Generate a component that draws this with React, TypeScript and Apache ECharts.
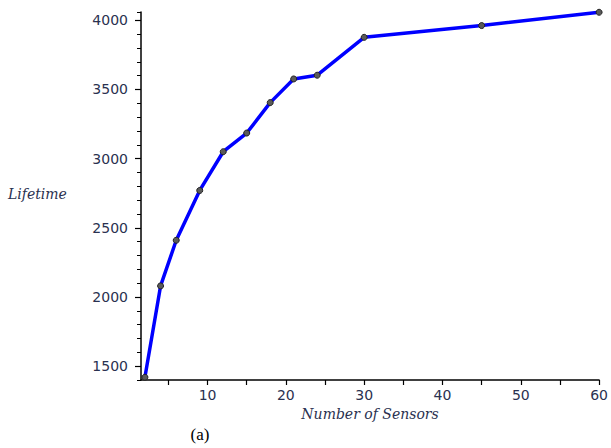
import React, { useEffect, useRef } from "react";
import * as echarts from "echarts";

const sensors = [2, 4, 6, 9, 12, 15, 18, 21, 24, 30, 45, 60];
const lifetime = [1420, 2080, 2410, 2770, 3050, 3185, 3405, 3576, 3603, 3877, 3962, 4058];
const yLabelValues = [1500, 2000, 2500, 3000, 3500, 4000];
const xLabelValues = [10, 20, 30, 40, 50, 60];
const xTickValues = [5, 10, 15, 20, 25, 30, 35, 40, 45, 50, 55, 60];

const labelColor = "#2a3150";
const labelFont = "DejaVu Sans";

export default function App() {
  const ref = useRef<HTMLDivElement>(null);
  useEffect(() => {
    document.body.style.margin = "0";
    if (!ref.current) return;
    const chart = echarts.init(ref.current, undefined, { renderer: "svg" });
    chart.setOption({
      animation: false,
      backgroundColor: "#ffffff",
      grid: { left: 141, right: 10, top: 12, bottom: 68 },
      xAxis: {
        type: "value",
        min: 1.5,
        max: 60,
        name: "Number of Sensors",
        nameLocation: "middle",
        nameGap: 21,
        nameTextStyle: {
          fontFamily: "DejaVu Serif",
          fontStyle: "italic",
          fontSize: 14,
          color: labelColor,
        },
        axisLine: { show: true, onZero: false, lineStyle: { color: "#000", width: 1.5 } },
        axisTick: {
          show: true,
          inside: false,
          length: 5,
          customValues: xTickValues,
          lineStyle: { color: "#000", width: 1.2 },
        },
        axisLabel: {
          customValues: xLabelValues,
          margin: 8,
          fontFamily: labelFont,
          fontSize: 14,
          color: labelColor,
          formatter: (v: number) => String(v),
        },
        splitLine: { show: false },
      },
      yAxis: [
        {
          type: "value",
          min: 1400,
          max: 4060,
          axisLine: { show: true, onZero: false, lineStyle: { color: "#000", width: 1.5 } },
          axisTick: {
            show: true,
            length: 6,
            customValues: yLabelValues,
            lineStyle: { color: "#000", width: 1.2 },
          },
          axisLabel: {
            customValues: yLabelValues,
            margin: 13,
            fontFamily: labelFont,
            fontSize: 14,
            color: labelColor,
            formatter: (v: number) => String(v),
          },
          splitLine: { show: false },
        },
        {
          type: "value",
          position: "left",
          min: 1400,
          max: 4060,
          interval: 100,
          axisLine: { show: false },
          axisTick: { show: true, length: 4, lineStyle: { color: "#000", width: 1 } },
          axisLabel: { show: false },
          splitLine: { show: false },
        },
      ],
      graphic: [
        {
          type: "text",
          left: 8,
          top: 187,
          style: {
            text: "Lifetime",
            fontFamily: "DejaVu Serif",
            fontStyle: "italic",
            fontSize: 14,
            fill: labelColor,
          },
        },
        {
          type: "text",
          x: 200,
          y: 434,
          style: {
            text: "(a)",
            fontFamily: "Liberation Serif",
            fontSize: 17,
            fill: "#000",
            align: "center",
            verticalAlign: "middle",
          },
        },
      ],
      series: [
        {
          type: "line",
          data: sensors.map((s, i) => [s, lifetime[i]]),
          yAxisIndex: 0,
          lineStyle: { color: "#0000ff", width: 3.5 },
          symbol: "circle",
          symbolSize: 6,
          itemStyle: { color: "#5a5a5a", borderColor: "#222", borderWidth: 1 },
          z: 3,
        },
      ],
    });
    return () => chart.dispose();
  }, []);
  return <div ref={ref} style={{ width: 611, height: 448 }} />;
}
